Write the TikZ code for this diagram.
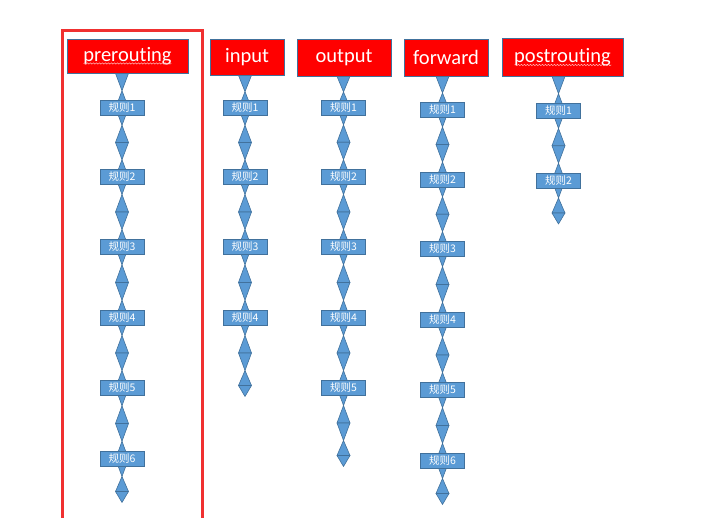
\documentclass[tikz,border=0pt]{standalone}
\usepackage{fontspec}
\setmainfont{Carlito}[Ligatures=NoCommon]
\newfontfamily\cjk{Noto Sans CJK SC}
\usetikzlibrary{calc,backgrounds,decorations.pathmorphing}
\definecolor{lkblue}{HTML}{5B9BD5}
\definecolor{lkedge}{HTML}{41719C}
\definecolor{hdred}{HTML}{FF0000}
\definecolor{frred}{HTML}{F03030}
\tikzset{
 lk/.style={fill=lkblue, draw=lkedge, line width=0.6pt, line join=round},
 rulebox/.style={draw=lkedge, fill=lkblue, line width=0.7pt, minimum width=44pt, minimum height=15pt, inner sep=0pt, text=white, font=\cjk\fontsize{10.5}{11}\selectfont},
 head/.style={draw=lkedge, fill=hdred, line width=0.7pt, inner sep=0pt, text=white, font=\fontsize{20.5}{22}\selectfont},
 squiggle/.style={decorate, decoration={snake, amplitude=0.7pt, segment length=3pt}, draw=red!25!white, line width=0.45pt},
 frame/.style={draw=frred, line width=2.2pt}
}
% triangle with base centred at #1 and tip at #2
\newcommand\tri[2]{\filldraw[lk] ($(#1)+(-6.5,0)$) -- ($(#1)+(6.5,0)$) -- (#2) -- cycle;}
% chain link between two rule boxes
\newcommand\link[2]{%
 \coordinate (t1) at ($(#1)!0.25!(#2)$);
 \coordinate (mm) at ($(#1)!0.5!(#2)$);
 \coordinate (t2) at ($(#1)!0.75!(#2)$);
 \tri{#1}{t1}\tri{mm}{t1}\tri{mm}{t2}\tri{#2}{t2}}
% link from a header to the first rule
\newcommand\headlink[2]{%
 \coordinate (hb) at (#2 |- #1.south);
 \coordinate (ht) at ($(hb)!0.5!(#2)$);
 \tri{hb}{ht}\tri{#2}{ht}}
% final small diamond, #1 = top tip
\newcommand\fin[1]{%
 \coordinate (fb) at ($(#1)+(0,15)$);
 \coordinate (ft) at ($(#1)+(0,26)$);
 \tri{fb}{#1}\tri{fb}{ft}}
\newcommand\tailone[1]{%
 \coordinate (ta) at ($(#1)+(0,17.5)$);
 \tri{#1}{ta}\fin{ta}}
\newcommand\tailtwo[1]{%
 \coordinate (ta) at ($(#1)+(0,17.5)$);
 \coordinate (tb) at ($(#1)+(0,35)$);
 \coordinate (tc) at ($(#1)+(0,52.5)$);
 \tri{#1}{ta}\tri{tb}{ta}\tri{tb}{tc}\fin{tc}}
\begin{document}
\begin{tikzpicture}[x=1pt,y=-1pt]
\useasboundingbox (0,0) rectangle (702,518);
\clip (0,0) rectangle (702,518);

% frame around prerouting
\draw[frame] (62.5,540) -- (62.5,30.5) -- (202.5,30.5) -- (202.5,540);

% headers
\node[head, minimum width=121pt, minimum height=34pt] (hpre) at (127.5,56) {prerouting};
\node[head, minimum width=74pt, minimum height=36pt] (hin) at (247,57) {input};
\node[head, minimum width=94pt, minimum height=37pt] (hout) at (344,57.5) {output};
\node[head, minimum width=84pt, minimum height=37pt] (hfwd) at (446,57.5) {forward};
\node[head, minimum width=121pt, minimum height=38pt] (hpost) at (562.5,57) {postrouting};
\draw[squiggle] ($(hpre.center)+(-44,7.5)$) -- ($(hpre.center)+(44,7.5)$);
\draw[squiggle] ($(hpost.center)+(-48,8)$) -- ($(hpost.center)+(49,8)$);

% prerouting rules
\node[rulebox] (p1) at (122,108) {规则1};
\node[rulebox] (p2) at (122,177) {规则2};
\node[rulebox] (p3) at (122,247) {规则3};
\node[rulebox] (p4) at (122,318) {规则4};
\node[rulebox] (p5) at (122,388) {规则5};
\node[rulebox] (p6) at (122,459) {规则6};
% input rules
\node[rulebox] (i1) at (245,108) {规则1};
\node[rulebox] (i2) at (245,177) {规则2};
\node[rulebox] (i3) at (245,247) {规则3};
\node[rulebox] (i4) at (245,318) {规则4};
% output rules
\node[rulebox] (o1) at (343.5,107.5) {规则1};
\node[rulebox] (o2) at (343.5,177) {规则2};
\node[rulebox] (o3) at (343.5,247) {规则3};
\node[rulebox] (o4) at (343.5,318) {规则4};
\node[rulebox] (o5) at (343.5,388) {规则5};
% forward rules
\node[rulebox] (f1) at (442.5,109.5) {规则1};
\node[rulebox] (f2) at (442.5,179.5) {规则2};
\node[rulebox] (f3) at (442.5,249) {规则3};
\node[rulebox] (f4) at (442.5,320) {规则4};
\node[rulebox] (f5) at (442.5,390) {规则5};
\node[rulebox] (f6) at (442.5,461) {规则6};
% postrouting rules
\node[rulebox] (q1) at (558.5,111) {规则1};
\node[rulebox] (q2) at (558.5,180.5) {规则2};

\begin{pgfonlayer}{background}
 \headlink{hpre}{p1}\link{p1}{p2}\link{p2}{p3}\link{p3}{p4}\link{p4}{p5}\link{p5}{p6}\tailone{p6}
 \headlink{hin}{i1}\link{i1}{i2}\link{i2}{i3}\link{i3}{i4}\tailtwo{i4}
 \headlink{hout}{o1}\link{o1}{o2}\link{o2}{o3}\link{o3}{o4}\link{o4}{o5}\tailtwo{o5}
 \headlink{hfwd}{f1}\link{f1}{f2}\link{f2}{f3}\link{f3}{f4}\link{f4}{f5}\link{f5}{f6}\tailone{f6}
 \headlink{hpost}{q1}\link{q1}{q2}\tailone{q2}
\end{pgfonlayer}
\end{tikzpicture}
\end{document}
